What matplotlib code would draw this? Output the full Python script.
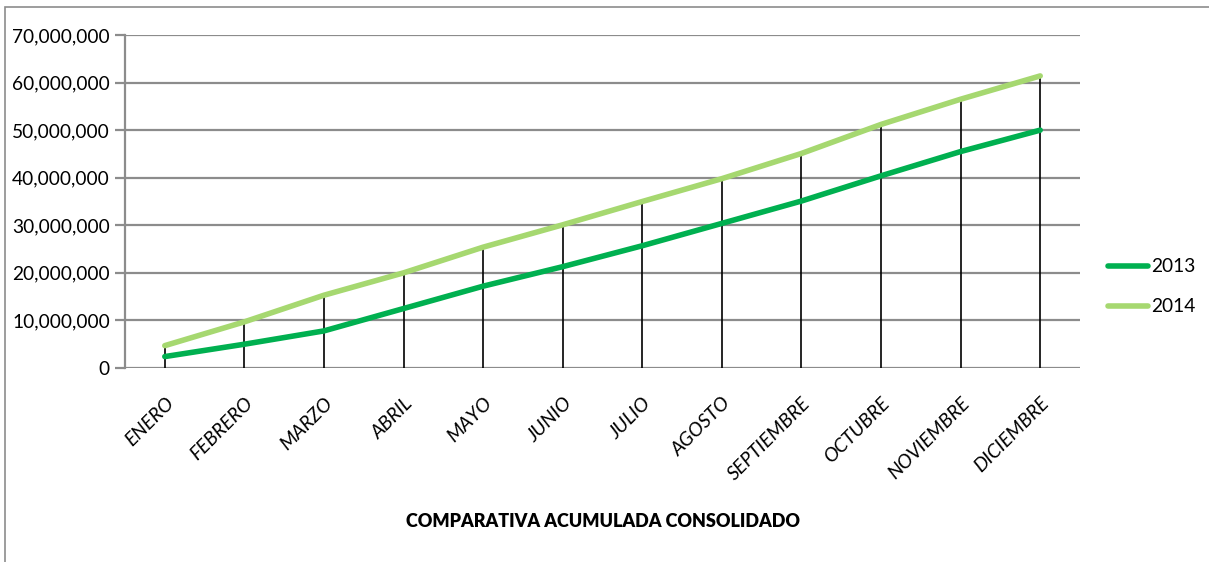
import matplotlib
matplotlib.use("Agg")
import matplotlib.pyplot as plt
from matplotlib.patches import Rectangle
from matplotlib.ticker import FuncFormatter

months = ["ENERO", "FEBRERO", "MARZO", "ABRIL", "MAYO", "JUNIO", "JULIO",
          "AGOSTO", "SEPTIEMBRE", "OCTUBRE", "NOVIEMBRE", "DICIEMBRE"]
v2013 = [2.4e6, 5.0e6, 7.8e6, 12.5e6, 17.2e6, 21.3e6, 25.7e6,
         30.4e6, 35.1e6, 40.4e6, 45.5e6, 50.0e6]
v2014 = [4.7e6, 9.7e6, 15.3e6, 20.0e6, 25.4e6, 30.1e6, 35.0e6,
         39.8e6, 45.1e6, 51.2e6, 56.5e6, 61.4e6]
yticks = [0, 10e6, 20e6, 30e6, 40e6, 50e6, 60e6, 70e6]
title = "COMPARATIVA ACUMULADA CONSOLIDADO"

plt.rcParams['font.family'] = ['Lato', 'DejaVu Sans']

W, H = 1209, 562
fig = plt.figure(figsize=(W / 100, H / 100), dpi=100)
ax = fig.add_axes([125 / W, 1 - 368 / H, (1080 - 125) / W, (368 - 35) / H])

x = list(range(len(months)))
tops = [max(a, b) for a, b in zip(v2013, v2014)]
ax.vlines(x, 0, tops, colors="black", linewidth=1.2, zorder=3)
ax.plot(x, v2013, color="#00B050", linewidth=4, label="2013", zorder=4,
        solid_capstyle="round")
ax.plot(x, v2014, color="#A6D870", linewidth=4, label="2014", zorder=4,
        solid_capstyle="round")

ax.set_xlim(-0.5, len(months) - 0.5)
ax.set_ylim(0, 70e6)
ax.set_yticks(yticks)
ax.yaxis.set_major_formatter(FuncFormatter(lambda v, p: f"{int(v):,}"))
ax.grid(axis="y", color="#8C8C8C", linewidth=1.6, zorder=0)
ax.set_axisbelow(True)
for s in ["top", "right", "bottom"]:
    ax.spines[s].set_visible(False)
ax.spines["left"].set_color("#8C8C8C")
ax.spines["left"].set_linewidth(1.6)
ax.tick_params(axis="y", length=7, width=1.6, color="#8C8C8C",
               labelsize=13.8, labelcolor="black", pad=4)
ax.set_xticks(x)
ax.set_xticklabels(months, rotation=45, ha="right", rotation_mode="anchor",
                   fontsize=14, fontstyle="italic")
ax.tick_params(axis="x", length=0, pad=19)

ax.set_xlabel(title, fontsize=13, fontweight="heavy")
ax.xaxis.set_label_coords((603 - 125) / (1080 - 125), -(513 - 368) / (368 - 35))

leg = ax.legend(loc="center left", bbox_to_anchor=(1108 / W, 1 - 287 / H),
                bbox_transform=fig.transFigure, frameon=False, borderpad=0,
                borderaxespad=0, fontsize=13.8, handlelength=2.1,
                handletextpad=0.15, labelspacing=1.2)

fig.patches.append(Rectangle((5 / W, -0.05), 1.2, 1 - 7 / H + 0.05,
                             transform=fig.transFigure, fill=False,
                             edgecolor="#8C8C8C", linewidth=1.2))

fig.savefig("out.png", dpi=100)
